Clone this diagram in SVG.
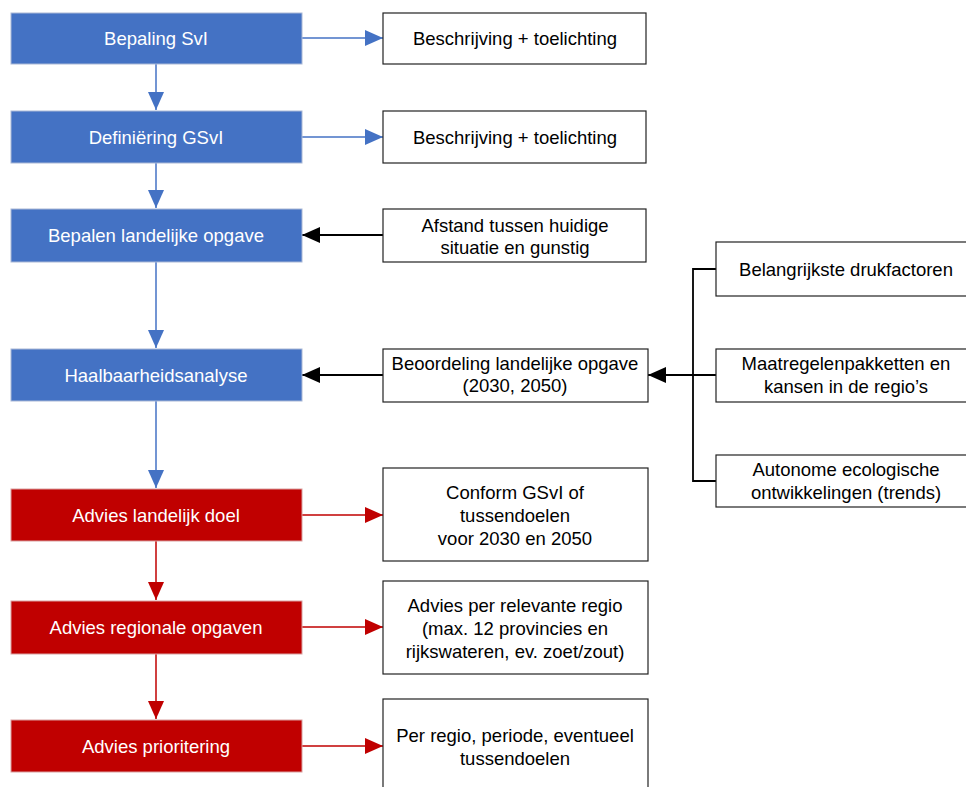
<svg xmlns="http://www.w3.org/2000/svg" width="966" height="787" viewBox="0 0 966 787">
<defs>
<style>
.blue{fill:#4472C4;stroke:#A9B8D6;stroke-width:1}
.red{fill:#C00000;stroke:#D9A0A0;stroke-width:1}
.wb{fill:#fff;stroke:#222;stroke-width:1.2}
.tw{font-family:"Liberation Sans",Arial,sans-serif;font-size:18.5px;fill:#fff;text-anchor:middle}
.tb{font-family:"Liberation Sans",Arial,sans-serif;font-size:18.5px;fill:#000;text-anchor:middle}
.cb{stroke:#4472C4;stroke-width:1.5;fill:none}
.cr{stroke:#C00000;stroke-width:1.5;fill:none}
.ck{stroke:#000;stroke-width:2;fill:none}
</style>
<marker id="ab" markerUnits="userSpaceOnUse" markerWidth="18" markerHeight="16" refX="18" refY="8" orient="auto"><path d="M0,0 L18,8 L0,16 z" fill="#4472C4"/></marker>
<marker id="ar" markerUnits="userSpaceOnUse" markerWidth="18" markerHeight="16" refX="18" refY="8" orient="auto"><path d="M0,0 L18,8 L0,16 z" fill="#C00000"/></marker>
<marker id="ak" markerUnits="userSpaceOnUse" markerWidth="18" markerHeight="16" refX="18" refY="8" orient="auto"><path d="M0,0 L18,8 L0,16 z" fill="#000"/></marker>
</defs>
<rect width="966" height="787" fill="#fff"/>
<g id="connectors">
<line class="cb" x1="156" y1="64" x2="156" y2="110" marker-end="url(#ab)"/>
<line class="cb" x1="156" y1="163" x2="156" y2="208" marker-end="url(#ab)"/>
<line class="cb" x1="156" y1="262" x2="156" y2="348" marker-end="url(#ab)"/>
<line class="cb" x1="156" y1="401" x2="156" y2="488" marker-end="url(#ab)"/>
<line class="cr" x1="156" y1="541" x2="156" y2="600" marker-end="url(#ar)"/>
<line class="cr" x1="156" y1="654" x2="156" y2="719" marker-end="url(#ar)"/>
<line class="cb" x1="302" y1="38" x2="383" y2="38" marker-end="url(#ab)"/>
<line class="cb" x1="302" y1="137" x2="383" y2="137" marker-end="url(#ab)"/>
<line class="ck" x1="383" y1="235" x2="302" y2="235" marker-end="url(#ak)"/>
<line class="ck" x1="383" y1="375" x2="302" y2="375" marker-end="url(#ak)"/>
<line class="cr" x1="302" y1="515" x2="383" y2="515" marker-end="url(#ar)"/>
<line class="cr" x1="302" y1="627" x2="383" y2="627" marker-end="url(#ar)"/>
<line class="cr" x1="302" y1="746" x2="383" y2="746" marker-end="url(#ar)"/>
<path class="ck" d="M716,269 H693 V481 H716 M716,375 H693" style="stroke-width:1.8"/>
<line class="ck" x1="693" y1="375" x2="648" y2="375" marker-end="url(#ak)"/>
</g>
<g id="n1"><rect class="blue" x="11" y="13" width="291" height="51"/><text class="tw" x="156" y="45">Bepaling SvI</text></g>
<g id="n2"><rect class="blue" x="11" y="111" width="291" height="52"/><text class="tw" x="156" y="144">Definiëring GSvI</text></g>
<g id="n3"><rect class="blue" x="11" y="209" width="291" height="53"/><text class="tw" x="156" y="242">Bepalen landelijke opgave</text></g>
<g id="n4"><rect class="blue" x="11" y="349" width="291" height="52"/><text class="tw" x="156" y="382">Haalbaarheidsanalyse</text></g>
<g id="n5"><rect class="red" x="11" y="489" width="291" height="52"/><text class="tw" x="156" y="522">Advies landelijk doel</text></g>
<g id="n6"><rect class="red" x="11" y="601" width="291" height="53"/><text class="tw" x="156" y="634">Advies regionale opgaven</text></g>
<g id="n7"><rect class="red" x="11" y="720" width="291" height="52"/><text class="tw" x="156" y="753">Advies prioritering</text></g>
<g id="r1"><rect class="wb" x="383" y="13" width="263" height="51"/><text class="tb" x="515" y="45">Beschrijving + toelichting</text></g>
<g id="r2"><rect class="wb" x="383" y="111" width="263" height="52"/><text class="tb" x="515" y="144">Beschrijving + toelichting</text></g>
<g id="r3"><rect class="wb" x="383" y="209" width="263" height="53"/><text class="tb" x="515" y="232">Afstand tussen huidige</text><text class="tb" x="515" y="254">situatie en gunstig</text></g>
<g id="r4"><rect class="wb" x="383" y="349" width="265" height="53"/><text class="tb" x="515" y="370">Beoordeling landelijke opgave</text><text class="tb" x="515" y="392">(2030, 2050)</text></g>
<g id="r5"><rect class="wb" x="383" y="468" width="265" height="93"/><text class="tb" x="515" y="499">Conform GSvI of</text><text class="tb" x="515" y="522">tussendoelen</text><text class="tb" x="515" y="545">voor 2030 en 2050</text></g>
<g id="r6"><rect class="wb" x="383" y="581" width="265" height="93"/><text class="tb" x="515" y="612">Advies per relevante regio</text><text class="tb" x="515" y="635">(max. 12 provincies en</text><text class="tb" x="515" y="658">rijkswateren, ev. zoet/zout)</text></g>
<g id="r7"><rect class="wb" x="383" y="699" width="265" height="100"/><text class="tb" x="515" y="742">Per regio, periode, eventueel</text><text class="tb" x="515" y="765">tussendoelen</text></g>
<g id="f1"><rect class="wb" x="716" y="242" width="265" height="54"/><text class="tb" x="846" y="276">Belangrijkste drukfactoren</text></g>
<g id="f2"><rect class="wb" x="716" y="349" width="265" height="53"/><text class="tb" x="846" y="370">Maatregelenpakketten en</text><text class="tb" x="846" y="393">kansen in de regio’s</text></g>
<g id="f3"><rect class="wb" x="716" y="455" width="265" height="52"/><text class="tb" x="846" y="476">Autonome ecologische</text><text class="tb" x="846" y="499">ontwikkelingen (trends)</text></g>
</svg>
